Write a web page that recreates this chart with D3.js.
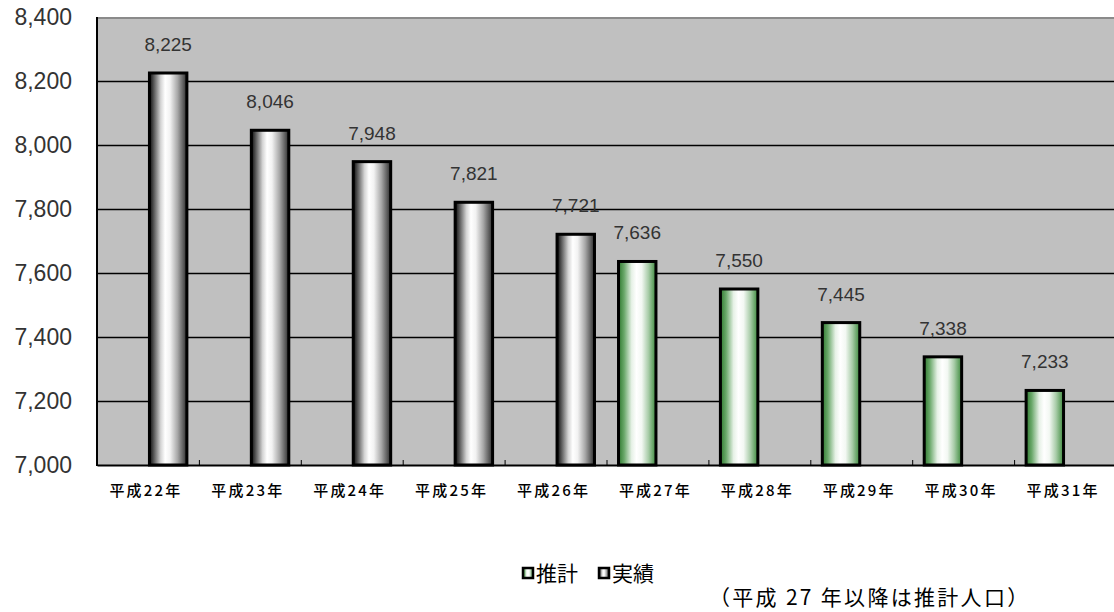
<!DOCTYPE html>
<html>
<head>
<meta charset="utf-8">
<script src="https://cdn.jsdelivr.net/npm/d3@7"></script>
<style>
  html, body { margin: 0; padding: 0; background: #fff; }
  svg { display: block; }
</style>
</head>
<body>
<svg id="chart" width="1114" height="612"></svg>
<script>
// Population by year (平成22年 – 平成31年)
const categories = ["平成22年", "平成23年", "平成24年", "平成25年", "平成26年",
                    "平成27年", "平成28年", "平成29年", "平成30年", "平成31年"];
const seriesNames = ["推計", "実績"];
// 推計 (estimate) — from 平成27年 onward
const estimateValues = [null, null, null, null, null, 7636, 7550, 7445, 7338, 7233];
// 実績 (actual) — up to 平成26年
const actualValues = [8225, 8046, 7948, 7821, 7721, null, null, null, null, null];
const yTicks = [7000, 7200, 7400, 7600, 7800, 8000, 8200, 8400];

const svg = d3.select("#chart");
const plot = { left: 97, top: 17, right: 1116, bottom: 465 };

const x0 = d3.scaleBand().domain(categories).range([plot.left, plot.right]).padding(0);
const x1 = d3.scaleBand().domain(seriesNames).range([0, x0.bandwidth()])
  .paddingInner(0).paddingOuter(0.26);
const y = d3.scaleLinear().domain([7000, 8400]).range([plot.bottom, plot.top]);

// gradients for the cylinder-like bars
const defs = svg.append("defs");
function gradient(id, stops) {
  const g = defs.append("linearGradient").attr("id", id)
    .attr("x1", "0%").attr("x2", "100%").attr("y1", "0%").attr("y2", "0%");
  stops.forEach(([o, c]) => g.append("stop").attr("offset", o).attr("stop-color", c));
}
gradient("gradGray", [["0%", "#0a0a0a"], ["12%", "#5a5a5a"], ["30%", "#d4d4d4"], ["42%", "#ffffff"],
                      ["55%", "#f2f2f2"], ["75%", "#a8a8a8"], ["92%", "#555"], ["100%", "#2a2a2a"]]);
gradient("gradGreen", [["0%", "#2f7a2f"], ["15%", "#6aa86a"], ["35%", "#e6f1e6"], ["48%", "#ffffff"],
                       ["62%", "#f3f8f3"], ["80%", "#a8cca8"], ["100%", "#3c8a3c"]]);
const fills = { "推計": "url(#gradGreen)", "実績": "url(#gradGray)" };

// plot background
svg.append("rect")
  .attr("x", plot.left).attr("y", plot.top)
  .attr("width", plot.right - plot.left).attr("height", plot.bottom - plot.top)
  .attr("fill", "#c0c0c0");
svg.append("line")
  .attr("x1", plot.left).attr("x2", plot.right)
  .attr("y1", plot.top + 1).attr("y2", plot.top + 1)
  .attr("stroke", "#8a8a8a").attr("stroke-width", 2);

// gridlines
svg.append("g").selectAll("line")
  .data(yTicks.filter(t => t > 7000 && t < 8400))
  .join("line")
  .attr("x1", plot.left).attr("x2", plot.right)
  .attr("y1", d => Math.round(y(d)) + 0.5).attr("y2", d => Math.round(y(d)) + 0.5)
  .attr("stroke", "#000").attr("stroke-width", 1.5);

// y axis labels
const yAxis = d3.axisLeft(y).tickValues(yTicks).tickSize(0).tickPadding(25)
  .tickFormat(d3.format(","));
svg.append("g").attr("transform", `translate(${plot.left},0)`).call(yAxis)
  .call(g => g.select(".domain").remove())
  .selectAll("text")
  .attr("font-family", "Liberation Sans, Arial, sans-serif")
  .attr("font-size", 23).attr("fill", "#333");

// bars
const rows = categories.map((c, i) => ({
  category: c,
  values: [{ s: "推計", v: estimateValues[i] }, { s: "実績", v: actualValues[i] }]
}));
const barGroups = svg.append("g").selectAll("g")
  .data(rows).join("g")
  .attr("transform", d => `translate(${x0(d.category)},0)`);

barGroups.selectAll("rect")
  .data(d => d.values.filter(e => e.v != null))
  .join("rect")
  .attr("x", d => x1(d.s) + 1.5)
  .attr("y", d => y(d.v))
  .attr("width", x1.bandwidth() - 3)
  .attr("height", d => plot.bottom - y(d.v))
  .attr("fill", d => fills[d.s])
  .attr("stroke", "#000").attr("stroke-width", 3);

// value labels
barGroups.selectAll("text")
  .data(d => d.values.filter(e => e.v != null))
  .join("text")
  .attr("x", d => x1(d.s) + x1.bandwidth() / 2)
  .attr("y", d => y(d.v) - 22)
  .attr("text-anchor", "middle")
  .attr("font-family", "Liberation Sans, Arial, sans-serif")
  .attr("font-size", 19).attr("fill", "#333")
  .text(d => d3.format(",")(d.v));

// left and bottom axis lines
svg.append("line")
  .attr("x1", plot.left).attr("x2", plot.left)
  .attr("y1", plot.top).attr("y2", plot.bottom + 1)
  .attr("stroke", "#000").attr("stroke-width", 2);

const xAxis = d3.axisBottom(x0).tickSize(0).tickPadding(20);
const xg = svg.append("g").attr("transform", `translate(-2,${plot.bottom})`).call(xAxis);
xg.select(".domain").attr("stroke", "#000").attr("stroke-width", 2)
  .attr("transform", "translate(2,0)");
xg.selectAll("text")
  .attr("font-family", "Noto Sans CJK JP, sans-serif")
  .attr("font-size", 15).attr("font-weight", 500)
  .attr("letter-spacing", 2.2)
  .attr("fill", "#000");

// category boundary tick marks
svg.append("g").selectAll("line")
  .data(categories.slice(1))
  .join("line")
  .attr("x1", d => x0(d) + 0.5).attr("x2", d => x0(d) + 0.5)
  .attr("y1", plot.bottom).attr("y2", plot.bottom - 5)
  .attr("stroke", "#000").attr("stroke-width", 1);

// legend
const legend = svg.append("g").attr("transform", "translate(522,573)");
const legendX = { "推計": 0, "実績": 76 };
seriesNames.forEach(s => {
  const g = legend.append("g").attr("transform", `translate(${legendX[s]},0)`);
  g.append("rect").attr("x", 1).attr("y", -5).attr("width", 10).attr("height", 10)
    .attr("fill", fills[s]).attr("stroke", "#000").attr("stroke-width", 2.5);
  g.append("text").attr("x", 14).attr("y", 8)
    .attr("font-family", "Noto Sans CJK JP, sans-serif")
    .attr("font-size", 21).attr("fill", "#000")
    .text(s);
});

// note
svg.append("text")
  .attr("x", 709).attr("y", 605)
  .attr("font-family", "Noto Sans CJK JP, sans-serif")
  .attr("font-size", 21).attr("letter-spacing", 2.3)
  .attr("fill", "#000")
  .text("（平成 27 年以降は推計人口）");
</script>
</body>
</html>
